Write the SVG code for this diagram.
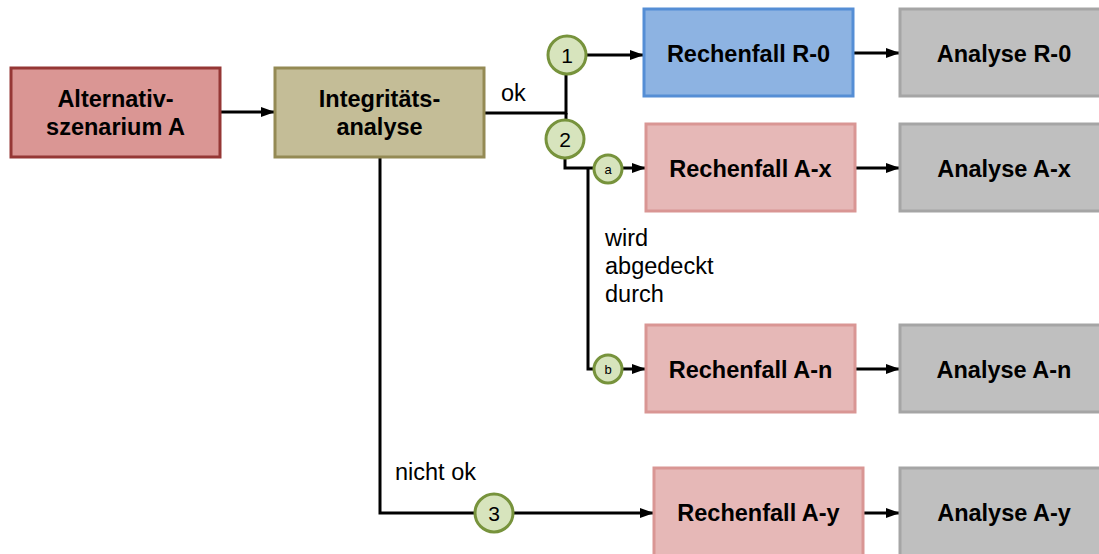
<svg xmlns="http://www.w3.org/2000/svg" width="1099" height="554" viewBox="0 0 1099 554">
<defs>
<marker id="ah" markerWidth="14" markerHeight="10" refX="14" refY="5" orient="auto" markerUnits="userSpaceOnUse">
<path d="M0,0 L14,5 L0,10 Z" fill="#000"/>
</marker>
<style>
.box{stroke-width:3}
.t{font-family:"Liberation Sans",Arial,sans-serif;font-size:23.5px;font-weight:bold;fill:#000;text-anchor:middle}
.l{font-family:"Liberation Sans",Arial,sans-serif;font-size:23.5px;fill:#000}
.c{fill:#d7e4bd;stroke:#77933c;stroke-width:3}
.ct{font-family:"Liberation Sans",Arial,sans-serif;font-size:21px;fill:#000;text-anchor:middle}
.cs{font-family:"Liberation Sans",Arial,sans-serif;font-size:13px;fill:#000;text-anchor:middle}
.e{fill:none;stroke:#000;stroke-width:3}
.ea{fill:none;stroke:#000;stroke-width:3;marker-end:url(#ah)}
.red{fill:#e6b8b7;stroke:#d99694}
.gray{fill:#bfbfbf;stroke:#a5a5a5}
</style>
</defs>
<rect width="1099" height="554" fill="#fff"/>
<g id="connectors">
<line class="ea" x1="220" y1="112" x2="275" y2="112"/>
<polyline class="e" points="484,113 566,113 566,74"/>
<line class="e" x1="566" y1="113" x2="566" y2="120"/>
<line class="ea" x1="586" y1="55" x2="644" y2="55"/>
<polyline class="e" points="565,158 565,168 593,168"/>
<polyline class="e" points="588,168 588,369 593,369"/>
<line class="ea" x1="623" y1="168" x2="646" y2="168"/>
<line class="ea" x1="623" y1="369" x2="646" y2="369"/>
<polyline class="e" points="380,157 380,513 475,513"/>
<line class="ea" x1="513" y1="513" x2="654" y2="513"/>
<line class="ea" x1="853" y1="53" x2="900" y2="53"/>
<line class="ea" x1="855" y1="168" x2="900" y2="168"/>
<line class="ea" x1="855" y1="369" x2="900" y2="369"/>
<line class="ea" x1="863" y1="513" x2="900" y2="513"/>
<text class="l" x="501" y="101">ok</text>
<text class="l" x="395" y="480">nicht ok</text>
<text class="l" x="605" y="246">wird</text>
<text class="l" x="605" y="274">abgedeckt</text>
<text class="l" x="605" y="302">durch</text>
</g>
<g id="alternativ">
<rect class="box" x="11" y="68" width="209" height="89" fill="#da9694" stroke="#953735"/>
<text class="t" x="115.5" y="107">Alternativ-</text>
<text class="t" x="115.5" y="135">szenarium A</text>
</g>
<g id="integritaet">
<rect class="box" x="275" y="68" width="209" height="89" fill="#c4bd97" stroke="#948a54"/>
<text class="t" x="379.5" y="107">Integritäts-</text>
<text class="t" x="379.5" y="135">analyse</text>
</g>
<g id="c1"><circle class="c" cx="567" cy="55" r="19"/><text class="ct" x="567" y="62.5">1</text></g>
<g id="c2"><circle class="c" cx="565" cy="139" r="19"/><text class="ct" x="565" y="146.5">2</text></g>
<g id="ca"><circle class="c" cx="608" cy="169" r="14"/><text class="cs" x="608" y="173.5">a</text></g>
<g id="cb"><circle class="c" cx="608" cy="369" r="14"/><text class="cs" x="608" y="373.5">b</text></g>
<g id="c3"><circle class="c" cx="494" cy="513" r="19"/><text class="ct" x="494" y="520.5">3</text></g>
<g id="rR0">
<rect class="box" x="644" y="9" width="209" height="87" fill="#8db3e2" stroke="#558ed5"/>
<text class="t" x="748.5" y="61.5">Rechenfall R-0</text>
</g>
<g id="aR0">
<rect class="box gray" x="900" y="9" width="209" height="87"/>
<text class="t" x="1004" y="61.5">Analyse R-0</text>
</g>
<g id="rAx">
<rect class="box red" x="646" y="124" width="209" height="87"/>
<text class="t" x="750.5" y="176.5">Rechenfall A-x</text>
</g>
<g id="aAx">
<rect class="box gray" x="900" y="124" width="209" height="87"/>
<text class="t" x="1004" y="176.5">Analyse A-x</text>
</g>
<g id="rAn">
<rect class="box red" x="646" y="325" width="209" height="87"/>
<text class="t" x="750.5" y="377.5">Rechenfall A-n</text>
</g>
<g id="aAn">
<rect class="box gray" x="900" y="325" width="209" height="87"/>
<text class="t" x="1004" y="377.5">Analyse A-n</text>
</g>
<g id="rAy">
<rect class="box red" x="654" y="468" width="209" height="95"/>
<text class="t" x="758.5" y="521">Rechenfall A-y</text>
</g>
<g id="aAy">
<rect class="box gray" x="900" y="468" width="209" height="95"/>
<text class="t" x="1004" y="521">Analyse A-y</text>
</g>
</svg>
